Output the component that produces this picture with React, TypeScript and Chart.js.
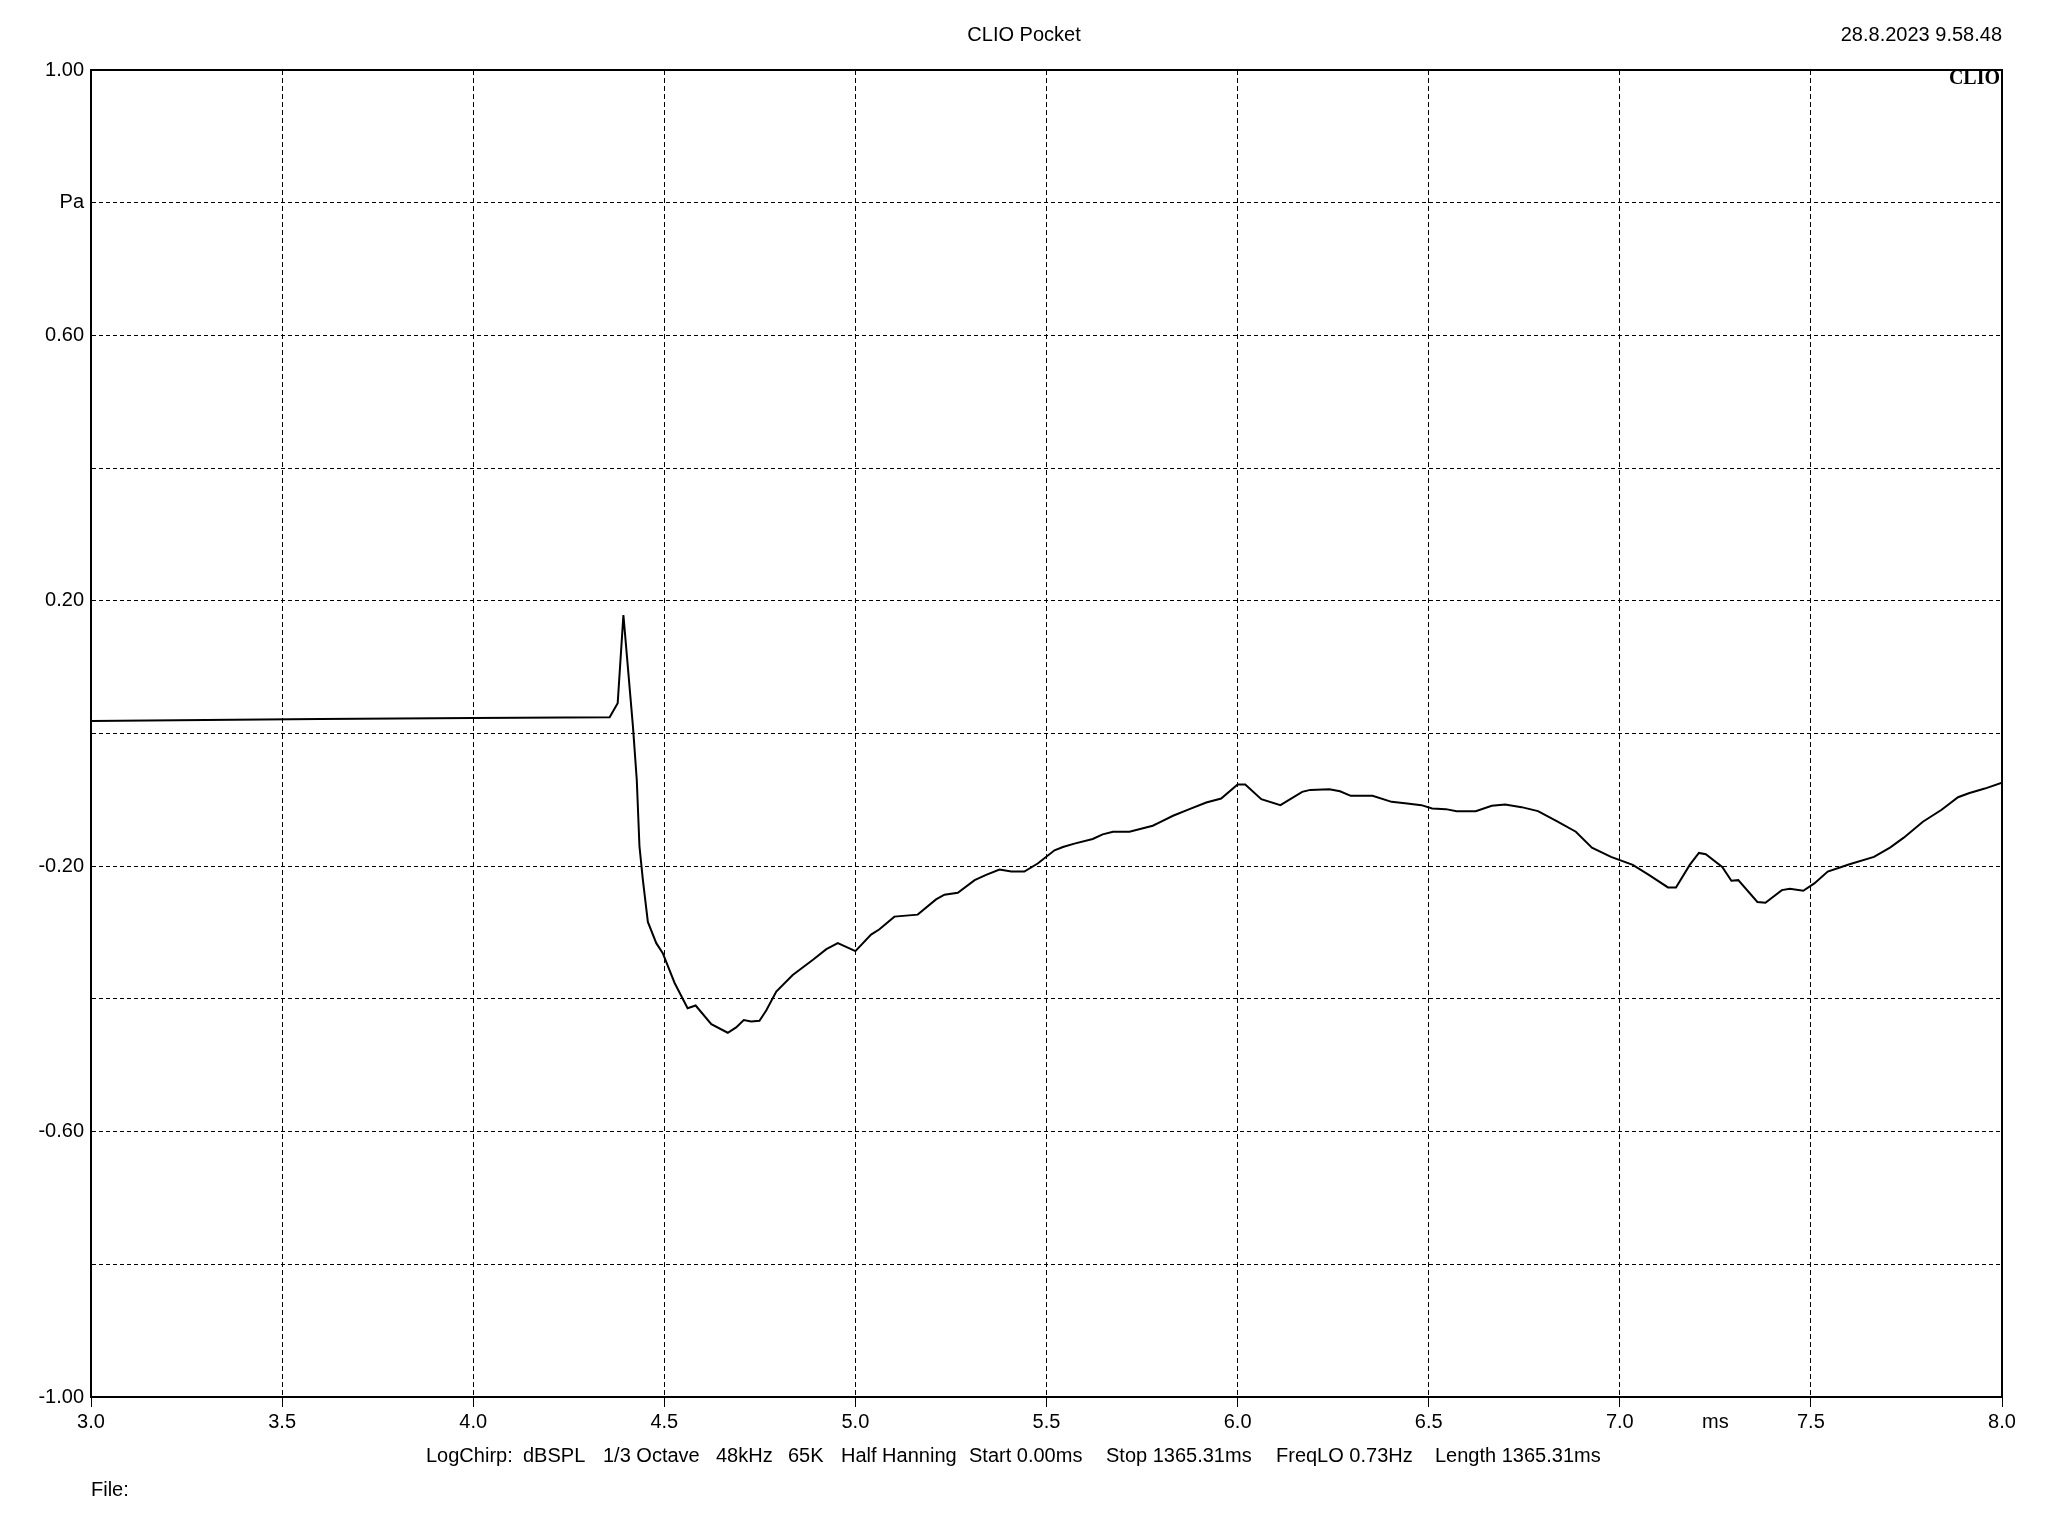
import { useEffect, useRef } from "react";
import { Chart, registerables } from "chart.js";

Chart.register(...registerables);

// ---- data ----
const timeMs = [
  3.0, 3.6, 4.0, 4.357, 4.378, 4.393, 4.418, 4.428, 4.435, 4.444, 4.457, 4.479, 4.496,
  4.527, 4.561, 4.582, 4.623, 4.666, 4.688, 4.708, 4.727, 4.749, 4.767, 4.793, 4.836,
  4.889, 4.924, 4.954, 5.0, 5.041, 5.063, 5.102, 5.163, 5.211, 5.233, 5.268, 5.312,
  5.342, 5.377, 5.408, 5.442, 5.477, 5.521, 5.543, 5.573, 5.621, 5.647, 5.674, 5.717,
  5.778, 5.796, 5.831, 5.874, 5.918, 5.957, 6.0, 6.02, 6.062, 6.112, 6.169, 6.19, 6.24,
  6.268, 6.296, 6.353, 6.403, 6.438, 6.481, 6.509, 6.545, 6.573, 6.623, 6.665, 6.7,
  6.743, 6.786, 6.835, 6.885, 6.927, 6.977, 7.034, 7.076, 7.126, 7.147, 7.183, 7.207,
  7.225, 7.268, 7.292, 7.31, 7.36, 7.381, 7.424, 7.445, 7.48, 7.509, 7.544, 7.601,
  7.665, 7.707, 7.743, 7.793, 7.842, 7.885, 7.913, 7.955, 8.0,
];
const pressurePa = [
  0.019, 0.022, 0.0235, 0.0245, 0.0455, 0.1786, 0.0103, -0.07, -0.17, -0.221, -0.284, -0.316, -0.331,
  -0.376, -0.414, -0.41, -0.438, -0.451, -0.443, -0.432, -0.434, -0.433, -0.417, -0.389, -0.364,
  -0.341, -0.325, -0.316, -0.328, -0.303, -0.295, -0.276, -0.273, -0.25, -0.243, -0.24, -0.221,
  -0.213, -0.205, -0.208, -0.208, -0.196, -0.176, -0.171, -0.166, -0.159, -0.152, -0.148, -0.148,
  -0.139, -0.134, -0.124, -0.114, -0.104, -0.098, -0.077, -0.077, -0.099, -0.108, -0.088, -0.085, -0.084,
  -0.087, -0.094, -0.094, -0.103, -0.105, -0.108, -0.113, -0.114, -0.117, -0.117, -0.109, -0.107,
  -0.111, -0.117, -0.132, -0.148, -0.172, -0.186, -0.198, -0.213, -0.232, -0.232, -0.198, -0.18,
  -0.182, -0.201, -0.222, -0.221, -0.254, -0.255, -0.236, -0.234, -0.237, -0.226, -0.208, -0.197,
  -0.186, -0.172, -0.157, -0.133, -0.115, -0.096, -0.09, -0.083, -0.074,
];

const xTickValues = [3.0, 3.5, 4.0, 4.5, 5.0, 5.5, 6.0, 6.5, 7.0, 7.5, 8.0];
const xTickLabels = ["3.0", "3.5", "4.0", "4.5", "5.0", "5.5", "6.0", "6.5", "7.0", "7.5", "8.0"];
const yTickValues = [1.0, 0.8, 0.6, 0.4, 0.2, 0.0, -0.2, -0.4, -0.6, -0.8, -1.0];
const yTickLabels = ["1.00", "Pa", "0.60", "", "0.20", "", "-0.20", "", "-0.60", "", "-1.00"];
const xUnitLabel = "ms";
const xUnitValue = 7.25;

const titleText = "CLIO Pocket";
const dateText = "28.8.2023 9.58.48";
const brandText = "CLIO";
const infoTokens = [
  "LogChirp:", "dBSPL", "1/3 Octave", "48kHz", "65K", "Half Hanning",
  "Start 0.00ms", "Stop 1365.31ms", "FreqLO 0.73Hz", "Length 1365.31ms",
];
const fileText = "File:";

// ---- layout ----
const FONT = "'Liberation Sans', Arial, sans-serif";
const FS = 20;
const INFO_X = [426, 523, 603, 716, 788, 841, 969, 1106, 1276, 1435];

function labelFor(values: number[], labels: string[], v: number): string {
  for (let i = 0; i < values.length; i++) {
    if (Math.abs(values[i] - v) < 1e-6) return labels[i];
  }
  return "";
}

const decorPlugin = {
  id: "decor",
  afterDraw(chart: any) {
    const { ctx, chartArea } = chart;
    const { left, right, top, bottom } = chartArea;
    ctx.save();
    ctx.strokeStyle = "#000";
    ctx.lineWidth = 2;
    ctx.setLineDash([]);
    ctx.strokeRect(left, top, right - left, bottom - top);

    ctx.fillStyle = "#000";
    ctx.font = `${FS}px ${FONT}`;
    ctx.textBaseline = "middle";
    ctx.textAlign = "center";
    ctx.fillText(titleText, 1024, 35);
    ctx.textAlign = "right";
    ctx.fillText(dateText, right, 35);

    const xs = chart.scales.x;
    ctx.textAlign = "center";
    ctx.fillText(xUnitLabel, xs.getPixelForValue(xUnitValue), 1422);

    ctx.textAlign = "left";
    for (let i = 0; i < infoTokens.length; i++) {
      ctx.fillText(infoTokens[i], INFO_X[i], 1456);
    }
    ctx.fillText(fileText, left, 1490);

    ctx.font = `bold 20px 'Liberation Serif', 'Times New Roman', serif`;
    ctx.textAlign = "right";
    ctx.fillText(brandText, right - 2, 79);
    ctx.restore();
  },
};

export default function App() {
  const ref = useRef<HTMLCanvasElement | null>(null);
  useEffect(() => {
    if (!ref.current) return;
    const data = timeMs.map((t, i) => ({ x: t, y: pressurePa[i] }));
    const chart = new Chart(ref.current, {
      type: "line",
      data: {
        datasets: [
          {
            data,
            borderColor: "#000",
            borderWidth: 2,
            pointRadius: 0,
            tension: 0,
            fill: false,
          },
        ],
      },
      options: {
        animation: false,
        responsive: false,
        devicePixelRatio: 1,
        layout: { padding: { top: 70, right: 46, bottom: 89, left: 0 } },
        plugins: { legend: { display: false }, tooltip: { enabled: false } },
        font: { family: FONT, size: FS },
        scales: {
          x: {
            type: "linear",
            min: 3,
            max: 8,
            afterFit: (s: any) => { s.height = 50; },
            afterBuildTicks: (s: any) => { s.ticks = xTickValues.map((v) => ({ value: v })); },
            ticks: {
              autoSkip: false,
              maxRotation: 0,
              padding: 3,
              color: "#000",
              font: { family: FONT, size: FS },
              callback: (v: any) => labelFor(xTickValues, xTickLabels, Number(v)),
            },
            grid: {
              color: "#000",
              lineWidth: 1,
              drawTicks: true,
              tickLength: 10,
              tickColor: "#000",
              tickWidth: 1,
              tickBorderDash: [],
            },
            border: { display: true, color: "#000", width: 2, dash: [5, 3] },
          },
          y: {
            type: "linear",
            min: -1,
            max: 1,
            afterFit: (s: any) => { s.width = 91; },
            afterBuildTicks: (s: any) => { s.ticks = yTickValues.slice().reverse().map((v) => ({ value: v })); },
            ticks: {
              autoSkip: false,
              padding: 7,
              color: "#000",
              font: { family: FONT, size: FS },
              callback: (v: any) => labelFor(yTickValues, yTickLabels, Number(v)),
            },
            grid: {
              color: "#000",
              lineWidth: 1,
              drawTicks: false,
            },
            border: { display: true, color: "#000", width: 2, dash: [4, 3] },
          },
        },
      },
      plugins: [decorPlugin],
    });
    return () => chart.destroy();
  }, []);
  return (
    <div style={{ position: "absolute", left: 0, top: 0, width: 2048, height: 1536, background: "#fff" }}>
      <canvas ref={ref} width={2048} height={1536} style={{ display: "block" }} />
    </div>
  );
}
